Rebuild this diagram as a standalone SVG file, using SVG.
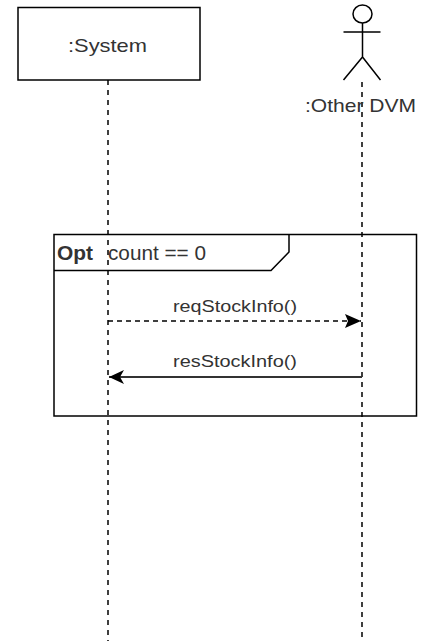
<svg xmlns="http://www.w3.org/2000/svg" width="428" height="641" viewBox="0 0 428 641">
<style>
  .t{font-family:"Liberation Sans",Arial,sans-serif;fill:#333333;}
  .life{stroke:#000;stroke-width:1.5;stroke-dasharray:5 5;fill:none;}
  .shape{stroke:#000;stroke-width:1.5;fill:#fff;}
</style>
<defs>
  <marker id="block" markerUnits="userSpaceOnUse" markerWidth="18" markerHeight="16" refX="16" refY="7" orient="auto">
    <path d="M0,0 L16,7 L0,14 L3,7 Z" fill="#000"/>
  </marker>
  <marker id="classic" markerUnits="userSpaceOnUse" markerWidth="18" markerHeight="16" refX="15" refY="7.5" orient="auto">
    <path d="M0,0.5 L15,7.5 L0,14.5 L4,7.5 Z" fill="#000"/>
  </marker>
</defs>
<rect width="428" height="641" fill="#fff"/>
<g id="frame-opt">
  <rect x="54" y="234.5" width="362.5" height="181.5" fill="none" stroke="#000" stroke-width="1.5"/>
  <path d="M54,270.5 L271,270.5 L289,252 L289,234.5" fill="none" stroke="#000" stroke-width="1.5"/>
  <text class="t" x="57" y="260" font-size="20" font-weight="bold" textLength="36" lengthAdjust="spacingAndGlyphs">Opt</text>
  <text class="t" x="108" y="260" font-size="20" textLength="98" lengthAdjust="spacingAndGlyphs">count == 0</text>
</g>
<g id="connectors">
  <line class="life" x1="108" y1="80" x2="108" y2="641"/>
  <line class="life" x1="362" y1="82" x2="362" y2="641"/>
  <line x1="108" y1="321" x2="361" y2="321" stroke="#000" stroke-width="1.5" stroke-dasharray="5 4" marker-end="url(#block)"/>
  <line x1="362" y1="377" x2="109" y2="377" stroke="#333" stroke-width="2" marker-end="url(#classic)"/>
  <text class="t" x="173" y="312" font-size="16" textLength="124" lengthAdjust="spacingAndGlyphs">reqStockInfo()</text>
  <text class="t" x="173" y="366.5" font-size="16" textLength="124" lengthAdjust="spacingAndGlyphs">resStockInfo()</text>
</g>
<g id="node-system">
  <rect class="shape" x="18" y="7.5" width="182" height="72.5"/>
  <text class="t" x="68" y="52" font-size="18.5" textLength="79" lengthAdjust="spacingAndGlyphs">:System</text>
</g>
<g id="node-otherdvm">
  <ellipse cx="362.5" cy="14" rx="9.5" ry="9" fill="#fff" stroke="#000" stroke-width="1.5"/>
  <path d="M362.5,23 L362.5,57 M343.5,32 L380.5,32 M343.5,80 L362.5,57 L380.5,80" fill="none" stroke="#000" stroke-width="1.5"/>
  <text class="t" x="305" y="111.5" font-size="18.5" textLength="111" lengthAdjust="spacingAndGlyphs">:Other DVM</text>
</g>
</svg>
